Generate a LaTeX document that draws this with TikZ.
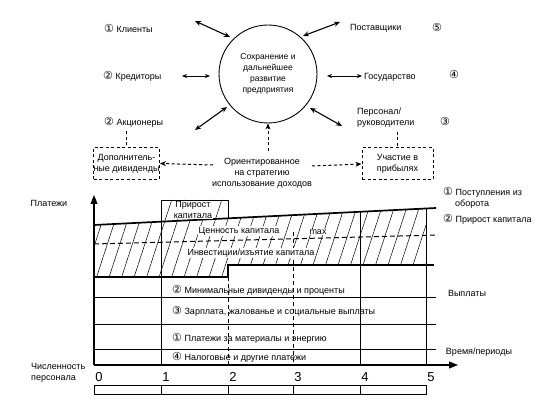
\documentclass[tikz,border=0pt]{standalone}
\usepackage{fontspec}
\setmainfont{Liberation Sans}
\newfontfamily\symf{DejaVu Sans}
\newcommand\cnum[1]{{\symf\fontsize{11}{11}\selectfont #1}}
\usetikzlibrary{arrows.meta}
\tikzset{
  t/.style={font=\fontsize{9}{11}\selectfont, inner sep=0pt, align=center},
  tw/.style={t, fill=white, inner sep=0.8pt},
  num/.style={font=\fontsize{13}{13}\selectfont, inner sep=0pt},
  dbl/.style={{Stealth[length=6pt,width=5pt]}-{Stealth[length=6pt,width=5pt]}, line width=1.1pt},
  dblthin/.style={{Stealth[length=5pt,width=4pt]}-{Stealth[length=5pt,width=4pt]}, line width=0.6pt},
  dsh/.style={line width=1pt, dash pattern=on 3pt off 2.5pt},
  dsharrow/.style={dsh, -{Stealth[length=6pt,width=5pt]}},
  dbox/.style={draw, line width=1pt, dash pattern=on 3pt off 2.5pt, minimum width=65pt, minimum height=32pt, t},
  heavy/.style={line width=1.7pt},
  mid/.style={line width=0.9pt},
  thinl/.style={line width=0.7pt},
  hatch/.style={line width=0.5pt},
  axis/.style={line width=1.1pt, -{Triangle[length=9pt,width=7pt]}},
}
\begin{document}
\begin{tikzpicture}[x=1pt,y=-1pt]
\useasboundingbox (0,0) rectangle (547,403);

% ---------- upper part ----------
\node[circle, draw, line width=0.9pt, minimum size=98pt, t, font=\fontsize{8.5}{11}\selectfont] (core) at (268,74)
  {Сохранение и\\дальнейшее\\развитие\\предприятия};

\node[t, anchor=west] (kl) at (104,28) {\cnum{①} Клиенты};
\node[t, anchor=west] (kr) at (103,76) {\cnum{②} Кредиторы};
\node[t, anchor=west] (ak) at (104,122) {\cnum{②} Акционеры};
\node[t, anchor=west] (ps) at (350,28) {Поставщики};
\node[t] (n5) at (437,27) {\cnum{⑤}};
\node[t, anchor=west] (gs) at (364,77) {Государство};
\node[t] (n4) at (454,74) {\cnum{④}};
\node[t, anchor=west, align=left] (pr) at (357,118) {Персонал/\\руководители};
\node[t] (n3) at (445,121) {\cnum{③}};

\coordinate (a1s) at (195,21); \coordinate (a1e) at (230,37);
\coordinate (a2s) at (182,76); \coordinate (a2e) at (210,76);
\coordinate (a3s) at (195,130); \coordinate (a3e) at (227,107);
\coordinate (a4s) at (303,36); \coordinate (a4e) at (340,22);
\coordinate (a5s) at (327,76); \coordinate (a5e) at (362,76);
\coordinate (a6s) at (310,108); \coordinate (a6e) at (342,126);
\draw[dbl] (a1s) -- (a1e);
\draw[dblthin] (a2s) -- (a2e);
\draw[dbl] (a3s) -- (a3e);
\draw[dbl] (a4s) -- (a4e);
\draw[dblthin] (a5s) -- (a5e);
\draw[dbl] (a6s) -- (a6e);

\node[t] (ori) at (262,173) {Ориентированное\\на стратегию\\использование доходов};
\node[dbox] (dd) at (126.5,163.5) {Дополнитель-\\ные дивиденды};
\node[dbox, minimum width=71pt] (up) at (397.5,164) {Участие в\\прибылях};

\coordinate (oriL) at (213,165);
\coordinate (oriR) at (312,166);
\coordinate (oriT) at (268,151);
\draw[dsharrow] (oriL) -- (dd.east);
\draw[dsharrow] (oriR) -- (up.west);
\draw[dsharrow] (oriT) -- (core.south);
\draw[dsh] (ak.south -| dd.north) ++(0,4) -- (dd.north);
\draw[dsh] (pr.south -| up.north) ++(0,4) -- (up.north);

% ---------- chart ----------
\begin{scope}
  \clip (94,225) -- (161,221.66) -- (161,200) -- (228,200) -- (228,218.3) -- (426,208.45)
        -- (426,265) -- (228,265) -- (228,277) -- (94,277) -- cycle;
  \foreach \i in {0,...,34} \draw[hatch] (70+\i*12.5,282) -- ++(28,-86);
\end{scope}

\draw[heavy] (94,225) -- (436,208);
\draw[heavy] (94,277) -- (228,277) -- (228,265) -- (434,265);
\draw[line width=1pt, dash pattern=on 5pt off 3pt] (94,244) -- (438,235);

\draw[mid] (161,200) -- (161,365);
\draw[mid] (161,200) -- (228,200) -- (228,218.3);
\draw[thinl, dash pattern=on 4pt off 3pt] (228,277) -- (228,365);
\draw[thinl, dash pattern=on 4pt off 3pt] (293,232) -- (293,365);
\draw[mid] (360,211.7) -- (360,365);
\draw[mid] (426,208.45) -- (426,365);

\draw[mid] (94,297) -- (436,297);
\draw[mid] (94,324) -- (436,324);
\draw[mid] (94,349) -- (436,349);

\coordinate (org) at (94,365);
\coordinate (ytip) at (94,195);
\coordinate (xtip) at (458,365);
\draw[axis] (org) -- (ytip);
\draw[axis] (org) -- (xtip);

\node[tw] (pk) at (193,210) {Прирост\\капитала};
\node[tw] (ck) at (239,231) {Ценность капитала};
\node[tw] (mx) at (318,232) {max};
\node[tw] (ik) at (251,253) {Инвестиции/изъятие капитала};

\node[t, anchor=west] (b2) at (172,290) {\cnum{②} Минимальные дивиденды и проценты};
\node[t, anchor=west] (b3) at (172,311) {\cnum{③} Зарплата, жалованье и социальные выплаты};
\node[t, anchor=west] (b1) at (172,338) {\cnum{①} Платежи за материалы и энергию};
\node[t, anchor=west] (b4) at (172,357) {\cnum{④} Налоговые и другие платежи};

\node[t] (pl) at (49,203) {Платежи};
\node[t] (vy) at (467,293) {Выплаты};
\node[t] (vp) at (479,352) {Время/периоды};
\node[t, align=left, anchor=west] (ch) at (31,373) {Численность\\персонала};
\node[t, align=left, anchor=north west] (lg1) at (443,187) {\cnum{①} Поступления из\\\hspace{12pt}оборота};
\node[t, anchor=west] (lg2) at (443,219) {\cnum{②} Прирост капитала};

\foreach \k/\xx in {0/94,1/161,2/228,3/293,4/360,5/426}
  \node[num] (x\k) at (\xx+5,377) {\k};

\draw[thinl] (94,385) rectangle (426,394);
\foreach \xx in {161,228,293,360} \draw[thinl] (\xx,385) -- (\xx,394);
\end{tikzpicture}
\end{document}
